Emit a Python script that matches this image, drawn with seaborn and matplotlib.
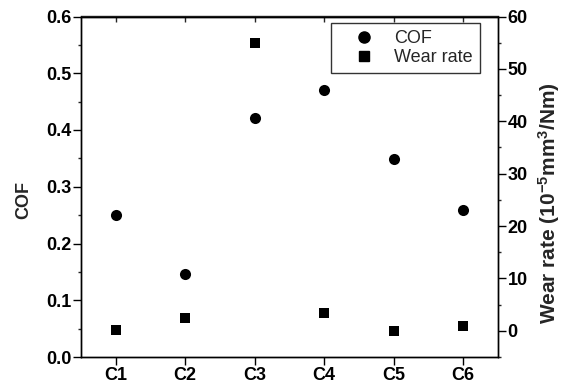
import matplotlib
matplotlib.use("Agg")
import matplotlib.pyplot as plt
from matplotlib.ticker import MultipleLocator
from matplotlib.lines import Line2D
import seaborn as sns
import pandas as pd

categories = ["C1", "C2", "C3", "C4", "C5", "C6"]
cof = [0.25, 0.147, 0.421, 0.47, 0.349, 0.259]
wear_rate = [0.2, 2.5, 55.0, 3.4, 0.0, 1.0]
cof_ticks = [0.0, 0.1, 0.2, 0.3, 0.4, 0.5, 0.6]
cof_ticklabels = ["0.0", "0.1", "0.2", "0.3", "0.4", "0.5", "0.6"]
wear_ticks = [0, 10, 20, 30, 40, 50, 60]

df = pd.DataFrame({"sample": categories, "COF": cof, "Wear rate": wear_rate})

sns.set_theme(style="ticks")
plt.rcParams["font.family"] = ["Liberation Sans", "DejaVu Sans"]
plt.rcParams["mathtext.fontset"] = "custom"
plt.rcParams["mathtext.rm"] = "Liberation Sans:bold"
plt.rcParams["mathtext.it"] = "Liberation Sans:bold"
plt.rcParams["mathtext.bf"] = "Liberation Sans:bold"

fig = plt.figure(figsize=(5.65, 3.83), dpi=100)
ax_left, ax_right, ax_top, ax_bottom = 81, 498, 16.5, 357
ax = fig.add_axes([ax_left/565, 1-ax_bottom/383, (ax_right-ax_left)/565,
                   (ax_bottom-ax_top)/383])
ax2 = ax.twinx()

sns.scatterplot(data=df, x="sample", y="COF", ax=ax, marker="o", s=64,
                color="black", edgecolor="black", linewidth=0, legend=False)
sns.scatterplot(data=df, x="sample", y="Wear rate", ax=ax2, marker="s", s=60,
                color="black", edgecolor="black", linewidth=0, legend=False)

ax.set_xlim(-0.5, 5.5)
ax.set_ylim(0.0, 0.6)
ax2.set_ylim(-5, 60)

ax.set_yticks(cof_ticks)
ax.set_yticklabels(cof_ticklabels)
ax.yaxis.set_minor_locator(MultipleLocator(0.05))
ax2.set_yticks(wear_ticks)
ax2.yaxis.set_minor_locator(MultipleLocator(5))

for a in (ax, ax2):
    for s in a.spines.values():
        s.set_visible(True)
        s.set_linewidth(1.0)
        s.set_color("black")

ax.tick_params(axis="both", which="major", direction="out", length=5.5, width=1.0,
               labelsize=13, colors="black", pad=1.5)
ax.tick_params(axis="y", which="minor", direction="out", length=2.5, width=1.0)
ax2.tick_params(axis="y", which="major", direction="out", length=5.5, width=1.0,
                labelsize=13, colors="black", pad=1.5)
ax2.tick_params(axis="y", which="minor", direction="out", length=2.5, width=1.0)
ax.tick_params(axis="x", which="minor", bottom=False, top=False)

for lab in ax.get_xticklabels() + ax.get_yticklabels() + ax2.get_yticklabels():
    lab.set_fontweight("bold")

top = ax.secondary_xaxis("top")
top.set_xticks(range(len(categories)))
top.tick_params(direction="in", length=4, width=1.0, labeltop=False)
top.spines["top"].set_linewidth(1.0)

ax.set_xlabel("")
ax.set_ylabel("COF", fontsize=13, fontweight="bold")
ax.yaxis.set_label_coords(-0.118, 0.46)
ax2.set_ylabel("Wear rate (10$^{-5}$mm$^{3}$/Nm)", fontsize=15, fontweight="bold")
ax2.yaxis.set_label_coords(1.091, 0.452)

handles = [
    Line2D([], [], marker="o", linestyle="none", color="black", markersize=8),
    Line2D([], [], marker="s", linestyle="none", color="black", markersize=7.5),
]
leg = ax2.legend(handles, ["COF", "Wear rate"], loc="upper right",
                 bbox_to_anchor=(0.957, 0.981), frameon=True, fancybox=False,
                 edgecolor="black", fontsize=13, borderpad=0.4,
                 handlelength=2.8, handletextpad=0.3, labelspacing=0.1,
                 borderaxespad=0)
leg.get_frame().set_linewidth(1.0)

fig.savefig("out.png", dpi=100)
